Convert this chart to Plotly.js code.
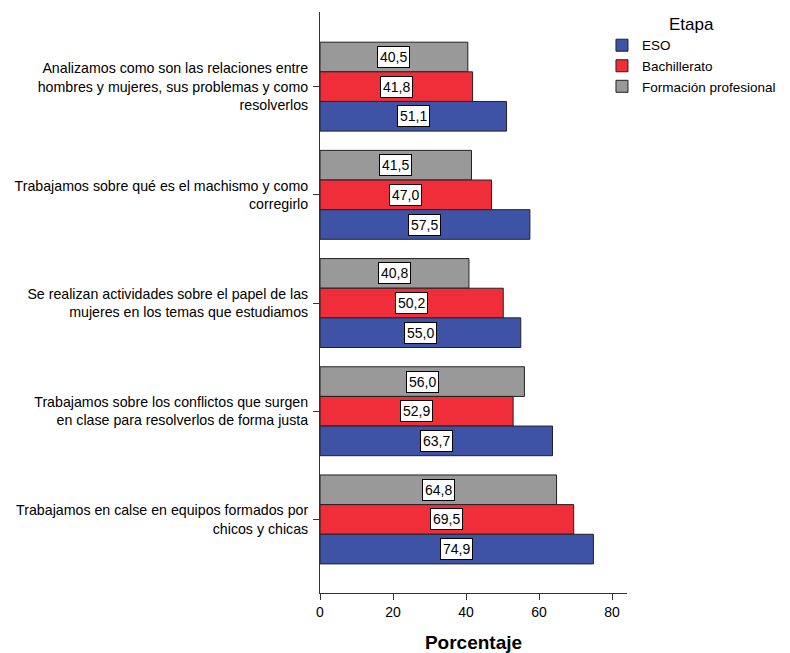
<!DOCTYPE html>
<html>
<head>
<meta charset="utf-8">
<script src="https://cdn.plot.ly/plotly-3.0.1.min.js"></script>
<style>html,body{margin:0;padding:0;background:#fff;}#chart{width:790px;height:653px;}</style>
</head>
<body>
<div id="chart"></div>
<script>
const categories = [
  "Analizamos como son las relaciones entre<br>hombres y mujeres, sus problemas y como<br>resolverlos",
  "Trabajamos sobre qué es el machismo y como<br>corregirlo",
  "Se realizan actividades sobre el papel de las<br>mujeres en los temas que estudiamos",
  "Trabajamos sobre los conflictos que surgen<br>en clase para resolverlos de forma justa",
  "Trabajamos en calse en equipos formados por<br>chicos y chicas"
];
const esoValues = [51.1, 57.5, 55.0, 63.7, 74.9];
const bachValues = [41.8, 47.0, 50.2, 52.9, 69.5];
const fpValues = [40.5, 41.5, 40.8, 56.0, 64.8];
const xTicks = [0, 20, 40, 60, 80];

const seriesNames = ["Formación profesional", "Bachillerato", "ESO"];
const seriesValues = [fpValues, bachValues, esoValues];
const seriesColors = ["#999999", "#ef2e3a", "#3e53a6"];

const FONT = "Liberation Sans, Arial, sans-serif";
const pxPerCat = 108.25;
const barFrac = 0.274;
const shifts = [barFrac * pxPerCat, 0, -barFrac * pxPerCat];

const traces = seriesNames.map((n, i) => ({
  type: "bar",
  orientation: "h",
  name: n,
  y: categories,
  x: seriesValues[i],
  marker: {color: seriesColors[i], line: {color: "#222222", width: 1}},
  hoverinfo: "x+name"
}));

const fmt = v => v.toFixed(1).replace(".", ",");
const annotations = [];
seriesValues.forEach((vals, i) => {
  vals.forEach((v, j) => {
    annotations.push({
      x: v / 2, y: categories[j], xref: "x", yref: "y",
      yshift: shifts[i],
      text: fmt(v), showarrow: false,
      font: {family: FONT, size: 14, color: "#000"},
      bgcolor: "#ffffff", bordercolor: "#000000", borderwidth: 1, borderpad: 2
    });
  });
});

const layout = {
  width: 790, height: 653,
  margin: {l: 320, r: 163, t: 12, b: 60, autoexpand: false},
  paper_bgcolor: "#ffffff", plot_bgcolor: "#ffffff",
  font: {family: FONT, size: 14, color: "#000"},
  barmode: "group",
  bargap: 0.178,
  bargroupgap: 0,
  showlegend: true,
  legend: {
    xref: "container", yref: "container",
    x: 0.762, xanchor: "left", y: 0.988, yanchor: "top",
    traceorder: "reversed",
    title: {text: "Etapa", side: "top center", font: {family: FONT, size: 17, color: "#000"}},
    font: {family: FONT, size: 13.5, color: "#000"},
    itemwidth: 30, tracegroupgap: 0,
    bgcolor: "rgba(0,0,0,0)"
  },
  xaxis: {
    range: [0, 84.1], autorange: false,
    tickvals: xTicks, ticktext: xTicks.map(String),
    ticks: "outside", ticklen: 6, tickcolor: "#333",
    showline: true, linecolor: "#333", linewidth: 1,
    showgrid: false, zeroline: false, automargin: false,
    tickfont: {size: 14},
    title: {text: "<b>Porcentaje</b>", font: {family: FONT, size: 19, color: "#000"}, standoff: 18}
  },
  yaxis: {
    type: "category",
    range: [4.68, -0.69], autorange: false,
    ticks: "outside", ticklen: 6, tickcolor: "#333",
    showline: true, linecolor: "#333", linewidth: 1,
    showgrid: false, zeroline: false, automargin: false,
    tickfont: {size: 14.2},
    ticklabelstandoff: 2
  },
  annotations: annotations
};

Plotly.newPlot("chart", traces, layout, {displayModeBar: false, staticPlot: true});
</script>
</body>
</html>
